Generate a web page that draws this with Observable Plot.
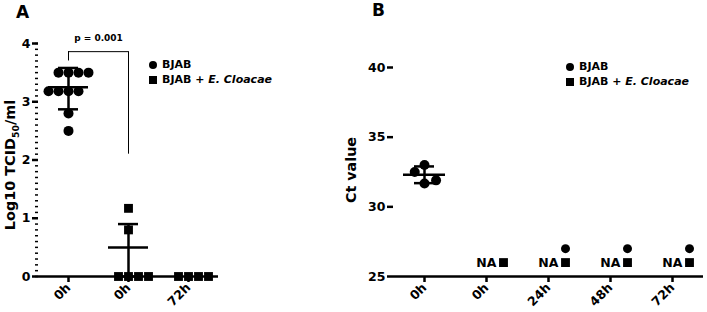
<!DOCTYPE html>
<html><head><meta charset="utf-8">
<script src="https://cdn.jsdelivr.net/npm/d3@7"></script>
<script src="https://cdn.jsdelivr.net/npm/@observablehq/plot@0.6"></script>
<style>
body{margin:0;background:#fff;}
#wrap{position:relative;width:707px;height:312px;font-family:"DejaVu Sans",sans-serif;font-weight:bold;color:#000;overflow:hidden;}
#wrap svg{position:absolute;top:0;}
.abs{position:absolute;white-space:nowrap;line-height:1;}
.rot{transform:translate(-50%,-50%) rotate(-90deg);}
.leg{font-size:11px;}
.leg .row{display:flex;align-items:center;height:15px;white-space:pre;}
.sym{display:inline-block;width:8px;height:8px;background:#000;margin-right:5px;}
.sym.c{border-radius:50%;}
</style></head><body><div id="wrap"></div>
<script>
// ---------- data ----------
const seriesNames = ["BJAB", "BJAB + E. Cloacae"];
const seriesItalic = ["", "E. Cloacae"];

// Panel A
const groupsA = ["a1", "a2", "a3"];
const tickLabelsA = ["0h", "0h", "72h"];
const seriesOfA = ["BJAB", "BJAB + E. Cloacae", "BJAB + E. Cloacae"];
const valuesA1 = [3.5, 3.5, 3.5, 3.5, 3.18, 3.18, 3.18, 3.18, 2.8, 2.5];
const valuesA2 = [1.17, 0.8, 0, 0, 0, 0];
const valuesA3 = [0, 0, 0, 0];
const statGroupsA = ["a1", "a2"];
const meanA = [3.25, 0.5];
const hiA = [3.58, 0.9];
const loA = [2.87, 0];
const yTicksA = [0, 1, 2, 3, 4];
const pLabel = "p = 0.001";
const bracketTop = 3.86, bracketLeftEnd = 3.7, bracketRightEnd = 2.1, pLabelY = 4.1;

// Panel B
const groupsB = ["b1", "b2", "b3", "b4", "b5"];
const tickLabelsB = ["0h", "0h", "24h", "48h", "72h"];
const valuesB1 = [33.0, 31.67, 32.5, 31.9];
const meanB = [32.3];
const hiB = [32.9];
const loB = [31.7];
const yTicksB = [25, 30, 35, 40];
const naSquareGroups = ["b2", "b3", "b4", "b5"];
const naCircleGroups = ["b3", "b4", "b5"];
const naSquareValue = 26, naCircleValue = 27;
const naText = "NA";

// ---------- build ----------
const font = '"DejaVu Sans", sans-serif';
const wrap = document.getElementById("wrap");

const rowsA = [
  ...valuesA1.map(v => ({g: "a1", v, s: seriesOfA[0]})),
  ...valuesA2.map(v => ({g: "a2", v, s: seriesOfA[1]})),
  ...valuesA3.map(v => ({g: "a3", v, s: seriesOfA[2]}))
];
const statsA = statGroupsA.map((g, i) => ({g, mean: meanA[i], hi: hiA[i], lo: loA[i]}));
const minorA = d3.range(0, 41).map(i => i / 10);

const WA = 340, mlA = 38, mrA = 122;
const center = () => 0;
const tickFont = 12.5;

const plotA = Plot.plot({
  width: WA, height: 312,
  marginLeft: mlA, marginRight: mrA, marginTop: 43, marginBottom: 36,
  style: {fontFamily: font, fontSize: tickFont + "px", fontWeight: "bold", background: "transparent", overflow: "visible"},
  fx: {domain: groupsA, padding: 0, label: null, axis: null},
  x: {domain: [-0.5, 0.5], axis: null, label: null},
  y: {domain: [0, 4], label: null, axis: null},
  symbol: {domain: seriesNames, range: ["circle", "square"]},
  marks: [
    Plot.axisY({ticks: minorA, tickSize: 3, tickFormat: () => "", strokeWidth: 1.5}),
    Plot.axisY({ticks: yTicksA, tickSize: 6, tickPadding: 2, strokeWidth: 2.5, line: true, label: null,
      tickFormat: d => String(d), fontSize: tickFont, fontWeight: "bold"}),
    Plot.axisFx({anchor: "bottom", tickSize: 6, tickRotate: -45, tickPadding: 3, strokeWidth: 2.5, label: null, fontSize: tickFont, fontWeight: "bold",
      tickFormat: d => tickLabelsA[groupsA.indexOf(d)]}),
    Plot.ruleY([0], {strokeWidth: 2.5}),
    // significance bracket
    Plot.ruleX([{g: "a1", y1: bracketLeftEnd, y2: bracketTop}, {g: "a2", y1: bracketRightEnd, y2: bracketTop}],
      {fx: "g", x: center, y1: "y1", y2: "y2", strokeWidth: 1}),
    Plot.ruleY([{g: "a1", y: bracketTop, x1: 0, x2: 0.5}, {g: "a2", y: bracketTop, x1: -0.5, x2: 0}],
      {fx: "g", y: "y", x1: "x1", x2: "x2", strokeWidth: 1}),
    Plot.text([{g: "a1", y: pLabelY, x: 0.5, t: pLabel}], {fx: "g", x: "x", y: "y", text: "t", fontSize: 9, fontWeight: "bold"}),
    // points
    Plot.dot(rowsA, Plot.dodgeX({anchor: "middle", padding: 0}, {fx: "g", y: "v", symbol: "s", fill: "black", r: 5})),
    // mean & SD
    Plot.ruleX(statsA, {fx: "g", x: center, y1: "lo", y2: "hi", strokeWidth: 2.5}),
    Plot.tickY(statsA, {fx: "g", y: "mean", strokeWidth: 2.5, insetLeft: 10, insetRight: 10}),
    Plot.tickY(statsA, {fx: "g", y: "hi", strokeWidth: 2.5, insetLeft: 20, insetRight: 20}),
    Plot.tickY(statsA, {fx: "g", y: "lo", strokeWidth: 2.5, insetLeft: 20, insetRight: 20})
  ]
});
plotA.style.left = "0px";
wrap.appendChild(plotA);

// Panel B
const rowsB = valuesB1.map(v => ({g: "b1", v, s: seriesNames[0]}));
const statsB = meanB.map((m, i) => ({g: "b1", mean: m, hi: hiB[i], lo: loB[i]}));
const naSq = naSquareGroups.map(g => ({g, v: naSquareValue, s: seriesNames[1]}));
const naCi = naCircleGroups.map(g => ({g, v: naCircleValue, s: seriesNames[0]}));

const WB = 367, mlB = 52, mrB = 2.5;

const plotB = Plot.plot({
  width: WB, height: 312,
  marginLeft: mlB, marginRight: mrB, marginTop: 67, marginBottom: 36,
  style: {fontFamily: font, fontSize: tickFont + "px", fontWeight: "bold", background: "transparent", overflow: "visible"},
  fx: {domain: groupsB, padding: 0, label: null, axis: null},
  x: {domain: [-0.5, 0.5], axis: null, label: null},
  y: {domain: [25, 40], label: null, axis: null},
  symbol: {domain: seriesNames, range: ["circle", "square"]},
  marks: [
    Plot.axisY({ticks: yTicksB, tickSize: 6, tickPadding: 2, strokeWidth: 2.5, line: true, label: null,
      tickFormat: d => String(d), fontSize: tickFont, fontWeight: "bold"}),
    Plot.axisFx({anchor: "bottom", tickSize: 6, tickRotate: -45, tickPadding: 3, strokeWidth: 2.5, label: null, fontSize: tickFont, fontWeight: "bold",
      tickFormat: d => tickLabelsB[groupsB.indexOf(d)]}),
    Plot.ruleY([25], {strokeWidth: 2.5}),
    Plot.dot(rowsB, Plot.dodgeX({anchor: "middle", padding: 2}, {fx: "g", y: "v", symbol: "s", fill: "black", r: 5})),
    Plot.ruleX(statsB, {fx: "g", x: center, y1: "lo", y2: "hi", strokeWidth: 2.5}),
    Plot.tickY(statsB, {fx: "g", y: "mean", strokeWidth: 2.5, insetLeft: 10, insetRight: 10}),
    Plot.tickY(statsB, {fx: "g", y: "hi", strokeWidth: 2.5, insetLeft: 21, insetRight: 21}),
    Plot.tickY(statsB, {fx: "g", y: "lo", strokeWidth: 2.5, insetLeft: 21, insetRight: 21}),
    Plot.dot(naSq, {fx: "g", x: center, y: "v", symbol: "s", fill: "black", r: 5, dx: 17}),
    Plot.dot(naCi, {fx: "g", x: center, y: "v", symbol: "s", fill: "black", r: 4.5, dx: 17}),
    Plot.text(naSq, {fx: "g", x: center, y: "v", text: () => naText, dx: 10, textAnchor: "end", fontSize: 12.5, fontWeight: "bold"})
  ]
});
plotB.style.left = "340px";
wrap.appendChild(plotB);

// ---------- overlay text: panel letters, axis titles, legends ----------
function addDiv(html, css, cls) {
  const d = document.createElement("div");
  d.className = "abs " + (cls || "");
  d.innerHTML = html;
  Object.assign(d.style, css);
  wrap.appendChild(d);
  return d;
}
addDiv("A", {left: "16px", top: "4px", fontSize: "17px"});
addDiv("B", {left: "372px", top: "2px", fontSize: "17px"});
addDiv("Log10 TCID<sub style='font-size:0.65em;line-height:0'>50</sub>/ml", {left: "10px", top: "165px", fontSize: "14.4px"}, "rot");
addDiv("Ct value", {left: "351px", top: "170px", fontSize: "14.3px"}, "rot");

function legend(left, top) {
  const html = seriesNames.map((n, i) => {
    const plain = seriesItalic[i] ? n.replace(seriesItalic[i], "") : n;
    const it = seriesItalic[i] ? `<i>${seriesItalic[i]}</i>` : "";
    return `<div class="row"><span class="sym ${i === 0 ? "c" : ""}"></span><span>${plain}${it}</span></div>`;
  }).join("");
  addDiv(html, {left: left + "px", top: top + "px"}, "leg");
}
legend(149, 57);
legend(566, 59);
</script>
</body></html>
